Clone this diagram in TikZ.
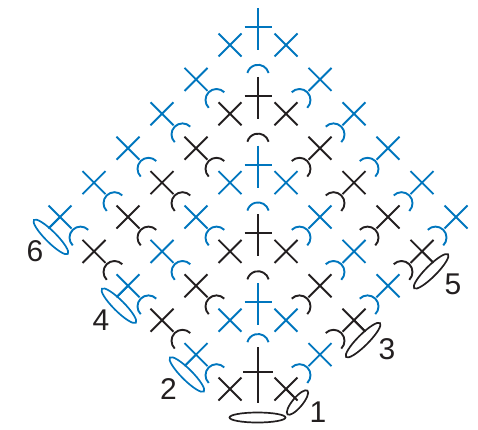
\documentclass[tikz,border=0pt]{standalone}
\usepackage{fontspec}
\setmainfont{Liberation Sans}
\definecolor{chartblue}{RGB}{0,118,190}
\definecolor{chartblack}{RGB}{35,31,32}
\tikzset{
    stitch/.style={line width=1.9pt, line cap=butt},
    ring/.style={line width=1.7pt},
    rowlabel/.style={inner sep=0pt, text=chartblack, font=\fontsize{30}{30}\selectfont},
    pics/scx/.style={code={\draw[stitch] (-11.5,-11.5) -- (11.5,11.5) (-11.5,11.5) -- (11.5,-11.5);}},
    pics/dcplus/.style={code={\draw[stitch] (0,-37) -- (0,5) (-13.5,-18) -- (13.5,-18);}},
    pics/chtop/.style={code={\draw[stitch] (15:11pt) arc[start angle=15, end angle=165, radius=11pt];}},
    pics/chleft/.style={code={\draw[stitch] (45:11pt) arc[start angle=45, end angle=225, radius=11pt];}},
    pics/chright/.style={code={\draw[stitch] (-45:11pt) arc[start angle=-45, end angle=135, radius=11pt];}},
    pics/endleft/.style={code={
        \draw[stitch] (0,0) -- (-10.8,10.8);
        \draw[ring, rotate around={-45:(-9.1,19.9)}] (-9.1,19.9) ellipse [x radius=24pt, y radius=5.5pt];}},
    pics/endright/.style={code={
        \draw[stitch] (0,0) -- (10.8,10.8);
        \draw[ring, rotate around={45:(9.1,19.9)}] (9.1,19.9) ellipse [x radius=24pt, y radius=5.5pt];}}
}

\begin{document}
\begin{tikzpicture}[x=1pt, y=-1pt]
    \useasboundingbox (0,0) rectangle (478,429);
    \foreach \r in {1,...,6} {
        \pgfmathsetmacro\Y{45+68.8*(6-\r)}
        \pgfmathtruncatemacro\last{\r-1}
        \ifodd\r\relax \def\rc{chartblack}\else \def\rc{chartblue}\fi
        \foreach \j in {0,...,\last} {
            \pic[color=\rc] at ({230-34*\j},{\Y+34.4*\j}) {scx};
            \pic[color=\rc] at ({286+34*\j},{\Y+34.4*\j}) {scx};
        }
        \ifnum\r>1
            \pic[color=\rc] at (258,\Y) {dcplus};
            \pgfmathtruncatemacro\lastch{\r-2}
            \foreach \j in {0,...,\lastch} {
                \pic[color=\rc] at ({216.5-34*\j},{\Y+55+34.4*\j}) {chleft};
                \pic[color=\rc] at ({299.5+34*\j},{\Y+55+34.4*\j}) {chright};
            }
            \ifnum\r=2
                \pic[color=\rc] at (258,345) {chtop};
            \else
                \pic[color=\rc] at (258,\Y+30.8) {chtop};
            \fi
            \ifodd\r\relax
                \pic[color=\rc] at ({286+34*\last},{\Y+34.4*\last}) {endright};
            \else
                \pic[color=\rc] at ({230-34*\last},{\Y+34.4*\last}) {endleft};
            \fi
        \fi
    }
    \draw[stitch, chartblack] (258,347) -- (258,403) (243,372) -- (273,372);
    \draw[stitch, chartblack] (286,389) -- (293,396);
    \draw[ring, chartblack, rotate around={50:(297.5,402.5)}] (297.5,402.5) ellipse [x radius=15.5pt, y radius=5pt];
    \draw[ring, chartblack] (257.5,417.5) ellipse [x radius=28pt, y radius=5pt];
    \node[rowlabel] (lab1) at (318,412) {1};
    \node[rowlabel] (lab2) at (168.5,389) {2};
    \node[rowlabel] (lab3) at (387,349) {3};
    \node[rowlabel] (lab4) at (101,320) {4};
    \node[rowlabel] (lab5) at (453,284) {5};
    \node[rowlabel] (lab6) at (35,251) {6};
\end{tikzpicture}
\end{document}
